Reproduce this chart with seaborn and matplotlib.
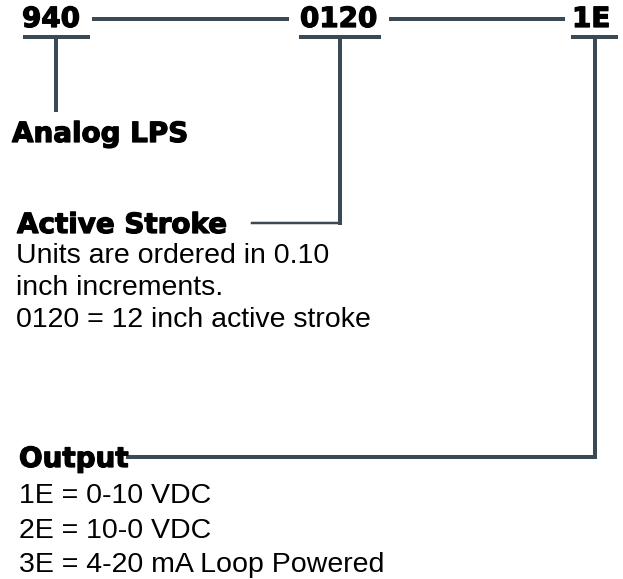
import matplotlib
matplotlib.use("Agg")
import matplotlib.pyplot as plt
import matplotlib.patheffects as pe
import seaborn as sns

# part number pieces and their descriptions
codes = ["940", "0120", "1E"]
headings = ["Analog LPS", "Active Stroke", "Output"]
stroke_notes = ["Units are ordered in 0.10", "inch increments.", "0120 = 12 inch active stroke"]
output_options = ["1E = 0-10 VDC", "2E = 10-0 VDC", "3E = 4-20 mA Loop Powered"]

line_col = "#3b4954"
W, H = 623, 579

sns.set_theme(style="white")
plt.rcParams["font.family"] = ["Liberation Sans", "DejaVu Sans"]

fig = plt.figure(figsize=(W / 100, H / 100), dpi=100)
ax = fig.add_axes([0, 0, 1, 1])
ax.set_xlim(0, W)
ax.set_ylim(H, 0)
ax.axis("off")

# Arial Black look-alike: bold DejaVu with a thin outline
heavy = dict(family=["DejaVu Sans"], weight="bold", color="black", fontsize=20,
             path_effects=[pe.withStroke(linewidth=0.9, foreground="black")])
body = dict(family=["Liberation Sans", "DejaVu Sans"], fontsize=20.5, color="black")

# connector segments (x list, y list, width in px)
segments = [
    ([94, 287], [19, 19], 4), ([391, 563], [19, 19], 4),
    ([25, 88], [37, 37], 4), ([301, 379], [37, 37], 4), ([573, 616], [37, 37], 4),
    ([56, 56], [37, 110], 4),
    ([340, 340], [37, 223], 4), ([252, 340], [223, 223], 2.5),
    ([595, 595], [37, 457], 4), ([128, 595], [457, 457], 4),
]
for xs, ys, w in segments:
    sns.lineplot(x=xs, y=ys, ax=ax, color=line_col, lw=w * 0.72, sort=False,
                 estimator=None, solid_capstyle="projecting")

code_x = [22, 300, 572]
for c, x in zip(codes, code_x):
    ax.text(x, 27, c, va="baseline", **heavy)

ax.text(12, 142, headings[0], va="baseline", **heavy)
ax.text(17, 233, headings[1], va="baseline", **heavy)
ax.text(19, 467, headings[2], va="baseline", **heavy)

for i, s in enumerate(stroke_notes):
    ax.text(16, 263 + i * 32, s, va="baseline", **body)
for i, s in enumerate(output_options):
    ax.text(19, 503 + i * 34.5, s, va="baseline", **body)

fig.savefig("out.png", dpi=100, facecolor="white")
